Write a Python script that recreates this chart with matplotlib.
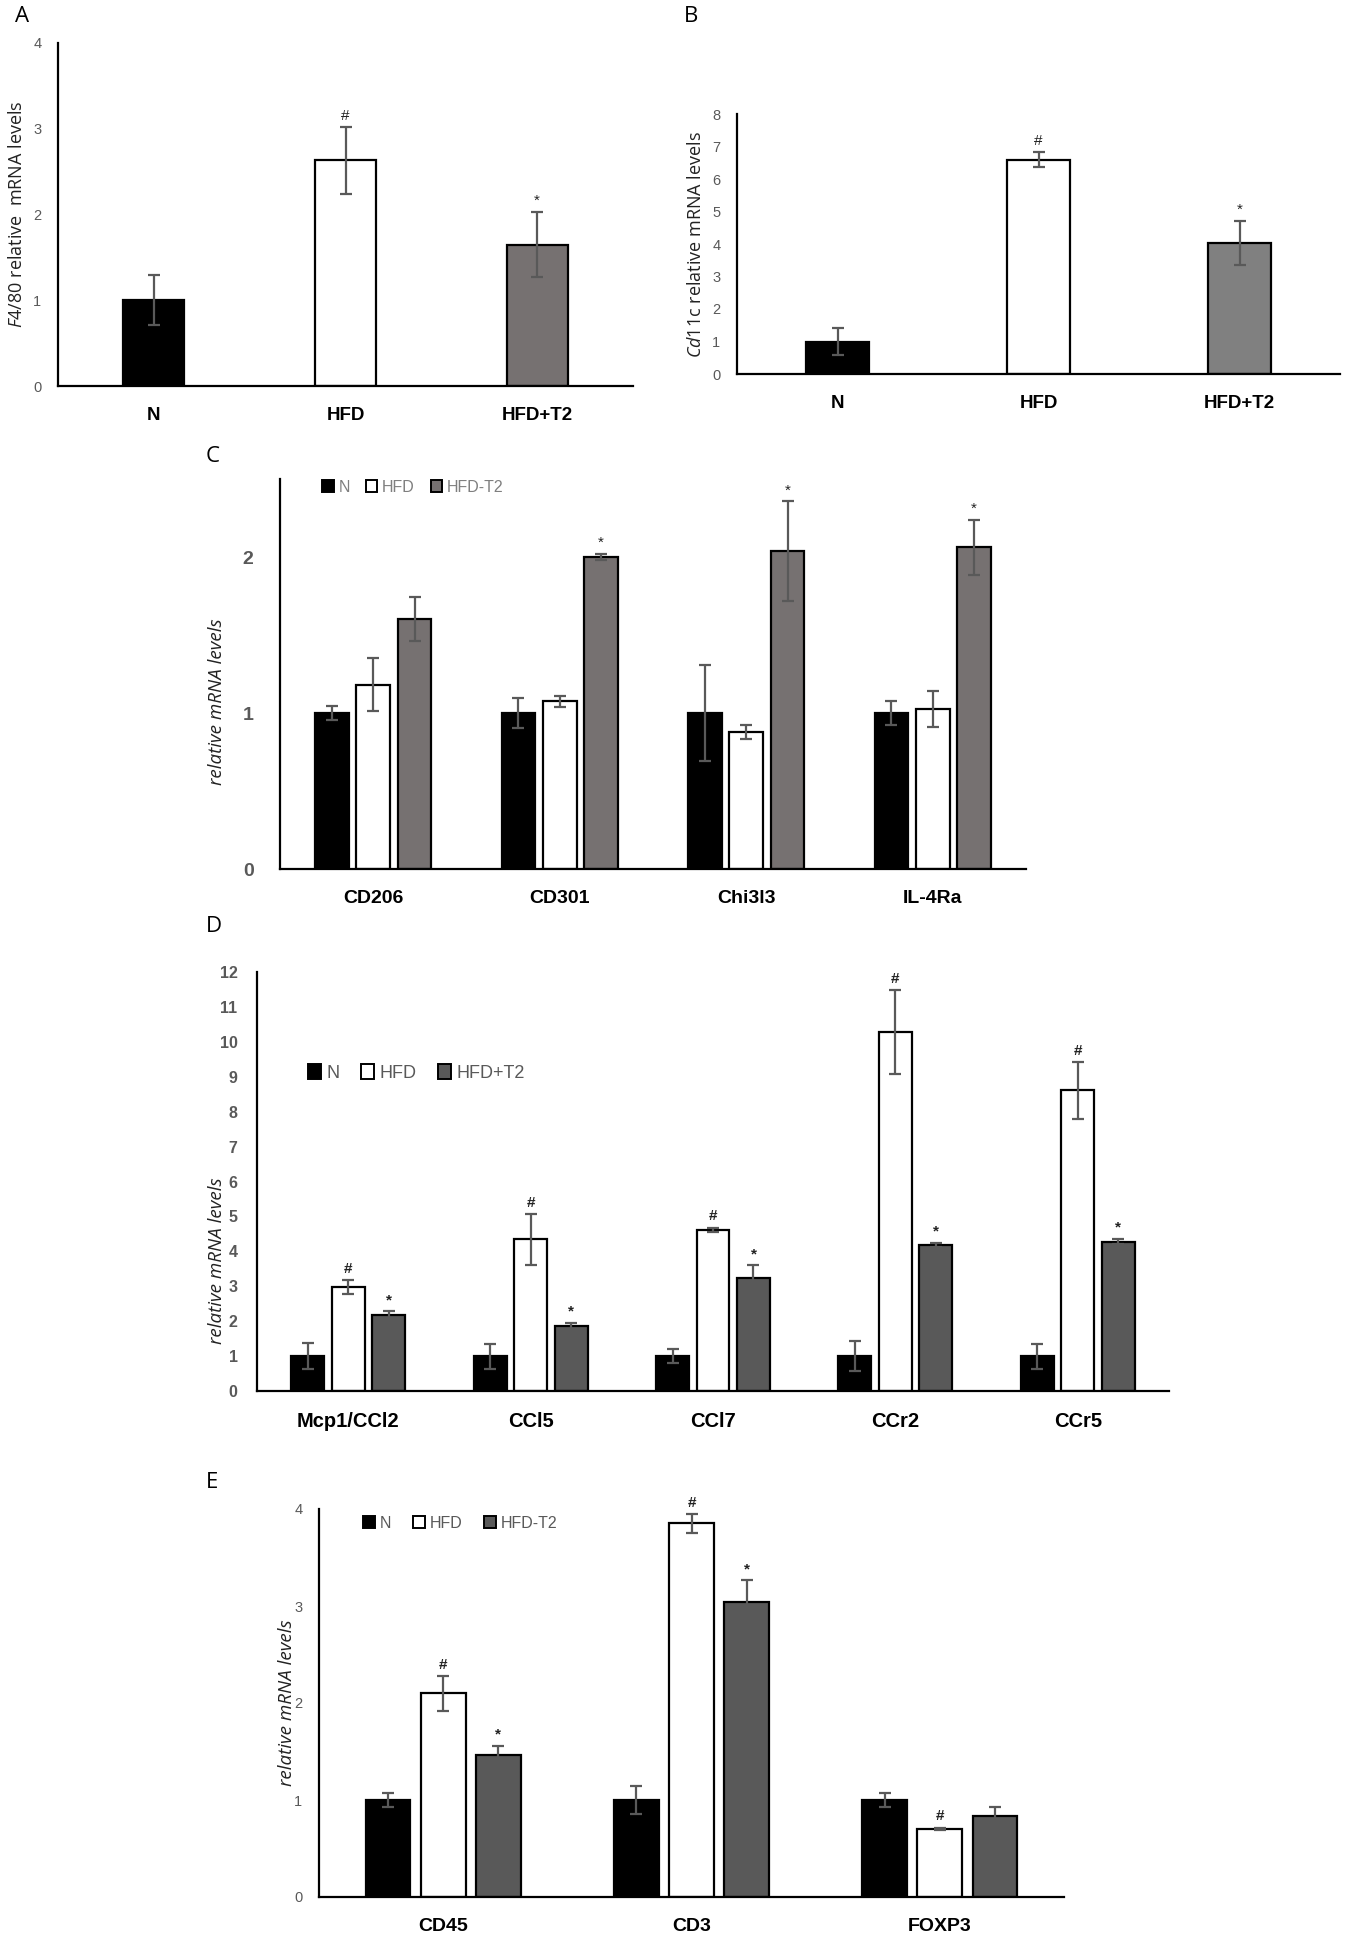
import matplotlib
matplotlib.use("Agg")
import matplotlib.pyplot as plt
from matplotlib.patches import Patch
import numpy as np

plt.rcParams['font.family'] = ['Liberation Sans', 'DejaVu Sans']
plt.rcParams['mathtext.fontset'] = 'custom'
plt.rcParams['mathtext.rm'] = 'Open Sans'
plt.rcParams['mathtext.it'] = 'Open Sans:italic'

# ---------------- data ----------------
a_groups = ['N', 'HFD', 'HFD+T2']
a_means = [1.00, 2.63, 1.65]
a_errs = [0.29, 0.39, 0.38]
a_marks = ['', '#', '*']

b_groups = ['N', 'HFD', 'HFD+T2']
b_means = [1.00, 6.60, 4.03]
b_errs = [0.41, 0.24, 0.69]
b_marks = ['', '#', '*']

c_genes = ['CD206', 'CD301', 'Chi3l3', 'IL-4Ra']
c_series = ['N', 'HFD', 'HFD-T2']
c_n = [1.00, 1.00, 1.00, 1.00]
c_n_err = [0.045, 0.096, 0.31, 0.075]
c_hfd = [1.18, 1.074, 0.879, 1.025]
c_hfd_err = [0.17, 0.036, 0.047, 0.117]
c_t2 = [1.603, 2.00, 2.036, 2.062]
c_t2_err = [0.14, 0.02, 0.32, 0.175]
c_hfd_marks = ['', '', '', '']
c_t2_marks = ['', '*', '*', '*']

d_genes = ['Mcp1/CCl2', 'CCl5', 'CCl7', 'CCr2', 'CCr5']
d_series = ['N', 'HFD', 'HFD+T2']
d_n = [1.00, 1.00, 1.00, 1.00, 1.00]
d_n_err = [0.38, 0.36, 0.20, 0.44, 0.36]
d_hfd = [2.98, 4.34, 4.61, 10.28, 8.61]
d_hfd_err = [0.19, 0.72, 0.07, 1.21, 0.82]
d_t2 = [2.17, 1.86, 3.24, 4.18, 4.28]
d_t2_err = [0.11, 0.10, 0.36, 0.065, 0.08]
d_hfd_marks = ['#', '#', '#', '#', '#']
d_t2_marks = ['*', '*', '*', '*', '*']

e_genes = ['CD45', 'CD3', 'FOXP3']
e_series = ['N', 'HFD', 'HFD-T2']
e_n = [1.00, 1.00, 1.00]
e_n_err = [0.077, 0.145, 0.07]
e_hfd = [2.098, 3.852, 0.705]
e_hfd_err = [0.18, 0.096, 0.01]
e_t2 = [1.465, 3.044, 0.839]
e_t2_err = [0.095, 0.22, 0.09]
e_hfd_marks = ['#', '#', '#']
e_t2_marks = ['*', '*', '']

# ---------------- layout ----------------
W, H = 1346, 1941
fig = plt.figure(figsize=(W / 100, H / 100), dpi=100)


def make_ax(l, r, t, b):
    return fig.add_axes([l / W, 1 - b / H, (r - l) / W, (b - t) / H])


TICK_C = '#595959'
ERR_C = '#595959'


def style(ax, ymax, yticks, tick_size=10.5, tick_weight='normal', tick_pad=12,
          cat_size=14):
    for s in ['top', 'right']:
        ax.spines[s].set_visible(False)
    for s in ['left', 'bottom']:
        ax.spines[s].set_linewidth(1.6)
        ax.spines[s].set_color('black')
    ax.set_ylim(0, ymax)
    ax.set_yticks(yticks)
    ax.tick_params(axis='both', length=0)
    ax.tick_params(axis='y', labelsize=tick_size, labelcolor=TICK_C, pad=tick_pad)
    for lab in ax.get_yticklabels():
        lab.set_fontweight(tick_weight)
    ax.tick_params(axis='x', labelsize=cat_size, pad=15)
    for lab in ax.get_xticklabels():
        lab.set_fontweight('bold')


def mark(ax, x, top, sym, weight='normal'):
    if sym:
        ax.annotate(sym, (x, top), xytext=(0, 3), textcoords='offset points',
                    ha='center', va='bottom', fontsize=11, color='#222222',
                    fontweight=weight)


def simple_panel(ax, groups, means, errs, marks, colors):
    x = np.arange(len(groups))
    ax.bar(x, means, width=0.318, color=colors, edgecolor='black', linewidth=1.6, zorder=2)
    ax.errorbar(x, means, yerr=errs, fmt='none', ecolor=ERR_C, elinewidth=1.6,
                capsize=4, capthick=1.6, zorder=3)
    for xi, m, e, s in zip(x, means, errs, marks):
        mark(ax, xi, m + e, s)
    ax.set_xlim(-0.5, len(groups) - 0.5)
    ax.set_xticks(x)
    ax.set_xticklabels(groups)


def grouped_panel(ax, genes, vals, errs, colors, marks_list, mark_weight='normal'):
    x = np.arange(len(genes))
    offs = [-0.222, 0.0, 0.222]
    for k in range(3):
        ax.bar(x + offs[k], vals[k], width=0.18, color=colors[k], edgecolor='black',
               linewidth=1.6, zorder=2)
        ax.errorbar(x + offs[k], vals[k], yerr=errs[k], fmt='none', ecolor=ERR_C,
                    elinewidth=1.6, capsize=4, capthick=1.6, zorder=3)
        if marks_list[k] is not None:
            for xi, m, e, s in zip(x + offs[k], vals[k], errs[k], marks_list[k]):
                mark(ax, xi, m + e, s, mark_weight)
    ax.set_xlim(-0.5, len(genes) - 0.5)
    ax.set_xticks(x)
    ax.set_xticklabels(genes)


def add_legend(names, colors, xpix, ypix, size, colspace, textcolor):
    handles = [Patch(facecolor=c, edgecolor='black', linewidth=1.4) for c in colors]
    fig.legend(handles, names, loc='center left', bbox_to_anchor=(xpix / W, 1 - ypix / H),
               bbox_transform=fig.transFigure, ncol=3, frameon=False,
               handlelength=0.72, handleheight=0.85, handletextpad=0.3,
               columnspacing=colspace, borderaxespad=0, borderpad=0,
               prop={'size': size}, labelcolor=textcolor)


def place_ylabel(ax, xpix, yfrac):
    bb = ax.get_position()
    ax.yaxis.set_label_coords((xpix / W - bb.x0) / bb.width, yfrac)


# Panel A
axA = make_ax(58, 633, 43, 386)
simple_panel(axA, a_groups, a_means, a_errs, a_marks, ['black', 'white', '#767171'])
style(axA, 4, [0, 1, 2, 3, 4], cat_size=13.5)
axA.set_ylabel(r'$\mathit{F4/80}$ relative  mRNA levels', fontfamily='Open Sans',
               fontsize=13, color='#222222')
place_ylabel(axA, 26, 0.5)
fig.text(15 / W, 1 - 17 / H, 'A', fontsize=16, fontfamily='Open Sans', va='center', ha='left')

# Panel B
axB = make_ax(737, 1340, 114, 374)
simple_panel(axB, b_groups, b_means, b_errs, b_marks, ['black', 'white', '#808080'])
style(axB, 8, list(range(9)), cat_size=13.5)
axB.set_ylabel(r'$\mathit{Cd11}$c relative mRNA levels', fontfamily='Open Sans',
               fontsize=13, color='#222222')
place_ylabel(axB, 705, 0.5)
fig.text(684 / W, 1 - 17 / H, 'B', fontsize=16, fontfamily='Open Sans', va='center', ha='left')

# Panel C
axC = make_ax(280, 1026, 479, 869)
grouped_panel(axC, c_genes, [c_n, c_hfd, c_t2], [c_n_err, c_hfd_err, c_t2_err],
              ['black', 'white', '#767171'], [None, c_hfd_marks, c_t2_marks])
style(axC, 2.5, [0, 1, 2], tick_size=14, tick_weight='bold', tick_pad=19)
axC.set_ylabel('relative mRNA levels', fontfamily='Open Sans', fontstyle='italic',
               fontsize=13.5, color='#222222')
place_ylabel(axC, 226, 0.43)
fig.text(206 / W, 1 - 457 / H, 'C', fontsize=16, fontfamily='Open Sans', va='center', ha='left')
add_legend(c_series, ['black', 'white', '#767171'], 322, 487, 11.5, 1.0, '#7f7f7f')

# Panel D
axD = make_ax(257, 1169, 972, 1391)
grouped_panel(axD, d_genes, [d_n, d_hfd, d_t2], [d_n_err, d_hfd_err, d_t2_err],
              ['black', 'white', '#595959'], [None, d_hfd_marks, d_t2_marks],
              mark_weight='bold')
style(axD, 12, list(range(13)), tick_size=11.5, tick_weight='bold', tick_pad=14,
      cat_size=14.5)
axD.set_ylabel('relative mRNA levels', fontfamily='Open Sans', fontstyle='italic',
               fontsize=13.5, color='#222222')
place_ylabel(axD, 226, 0.31)
fig.text(206 / W, 1 - 926 / H, 'D', fontsize=16, fontfamily='Open Sans', va='center', ha='left')
add_legend(d_series, ['black', 'white', '#595959'], 308, 1073, 13, 1.2, '#595959')

# Panel E
axE = make_ax(319, 1064, 1509, 1897)
grouped_panel(axE, e_genes, [e_n, e_hfd, e_t2], [e_n_err, e_hfd_err, e_t2_err],
              ['black', 'white', '#595959'], [None, e_hfd_marks, e_t2_marks],
              mark_weight='bold')
style(axE, 4, [0, 1, 2, 3, 4], tick_size=10.5)
axE.set_ylabel('relative mRNA levels', fontfamily='Open Sans', fontstyle='italic',
               fontsize=13.5, color='#222222')
place_ylabel(axE, 296, 0.5)
fig.text(206 / W, 1 - 1483 / H, 'E', fontsize=16, fontfamily='Open Sans', va='center', ha='left')
add_legend(e_series, ['black', 'white', '#595959'], 363, 1523, 11.5, 1.4, '#595959')

fig.savefig('out.png', dpi=100, facecolor='white')
